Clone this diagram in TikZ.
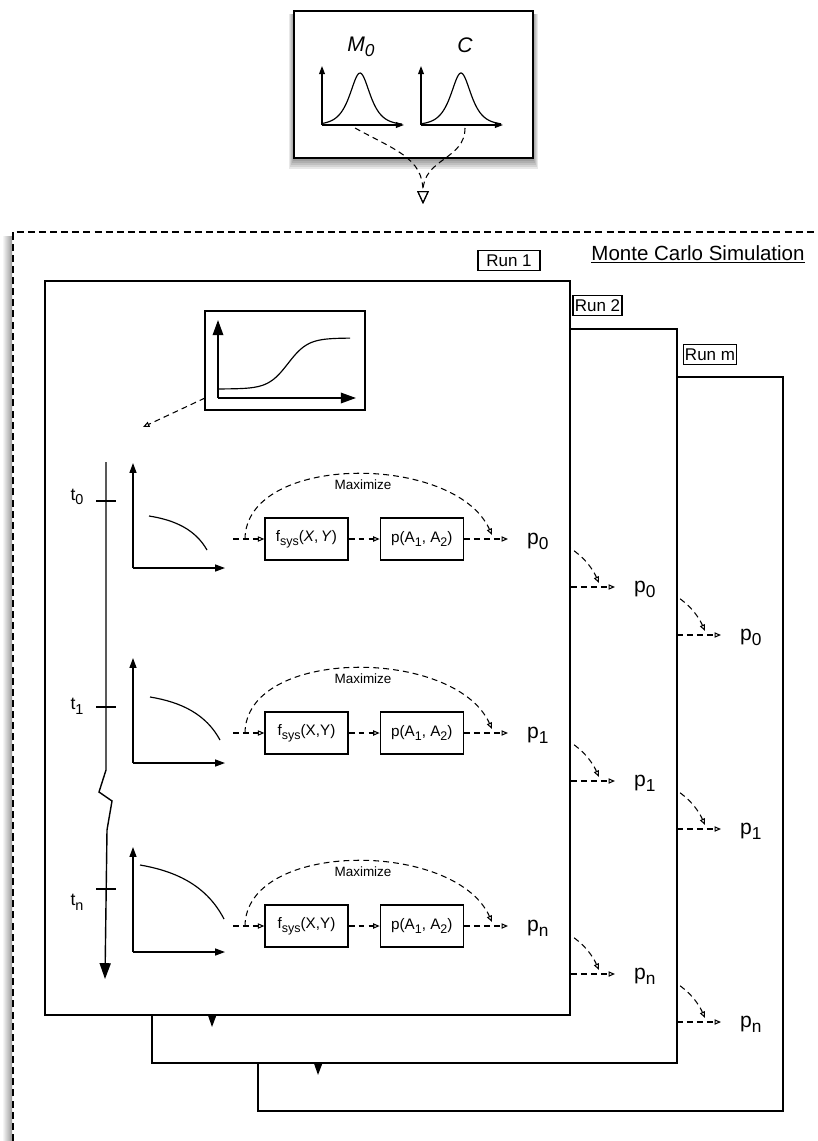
\documentclass[tikz,border=0pt]{standalone}
\usepackage{fontspec}
\usepackage{graphicx}
\setmainfont{Liberation Sans}
\setsansfont{Liberation Sans}
\usetikzlibrary{arrows.meta,positioning}
\newcommand\lsub[1]{\raisebox{-0.5ex}{\scalebox{0.82}{#1}}}
\tikzset{
    priorbox/.style = {rectangle, draw=black, line width=1.2pt, fill=white, minimum width=71.7mm, minimum height=44.1mm},
    insetbox/.style = {rectangle, draw=black, line width=1.2pt, minimum width=48mm, minimum height=29.7mm},
    runpage/.style = {draw=black, line width=1.1pt, fill=white},
    runlabel/.style = {rectangle, draw=black, line width=0.9pt, inner sep=1pt, minimum height=6mm, font=\fontsize{14.5}{15}\selectfont},
    funcbox/.style = {rectangle, draw=black, line width=1.1pt, minimum width=24.9mm, minimum height=12.6mm, inner sep=1pt, font=\fontsize{13}{14}\selectfont},
    distlabel/.style = {font=\fontsize{18}{18}\selectfont},
    mctitle/.style = {font=\fontsize{17.5}{18}\selectfont},
    maxlabel/.style = {font=\fontsize{11.5}{12}\selectfont, inner sep=0pt},
    plabel/.style = {font=\fontsize{18}{18}\selectfont, anchor=base west, inner sep=0pt},
    tlabel/.style = {font=\fontsize{15}{15}\selectfont},
    dasharrow/.style = {dash pattern=on 5pt off 3.5pt, line width=0.9pt, -{Triangle[open, length=5.5pt, width=4.5pt]}},
    distarrow/.style = {dash pattern=on 5pt off 3.5pt, line width=0.9pt, -{Triangle[open, length=11pt, width=10pt]}},
    mcframe/.style = {dash pattern=on 6pt off 3.5pt, line width=1.1pt},
    smallaxis/.style = {line width=1.1pt, -{Triangle[length=7pt, width=5pt]}},
    plotaxis/.style = {line width=1.1pt, -{Triangle[length=8.5pt, width=6pt]}},
    bigaxis/.style = {line width=1.5pt, -{Triangle[length=13pt, width=9pt]}},
    timeaxis/.style = {line width=1.2pt, line join=miter, -{Triangle[length=13.5pt, width=9.5pt]}},
    tick/.style = {line width=1.1pt},
    curve/.style = {line width=1pt}
}
% text only on the front run page, the others are covered
\newcommand\front[1]{\ifnum\pg=1 #1\fi}

\begin{document}
\begin{tikzpicture}[x=0.3mm, y=-0.3mm, node distance=9.3mm]
    \useasboundingbox (0,0) rectangle (817,1141);
    \clip (0,0) rectangle (817,1141);

    % prior distributions
    \foreach \s in {1,...,5}
        \fill [black, opacity=0.09] (294-\s,14) rectangle (533+\s,159+2*\s);
    \node [priorbox] (prior) at (413.5,84.5) {};
    \node [distlabel] (m0) at (361,47) {\textit{M}\lsub{\textit{0}}};
    \node [distlabel] (cc) at (465,45) {\textit{C}};
    \draw [smallaxis] (322,125) -- (322,66);
    \draw [smallaxis] (322,125) -- (404,125);
    \draw [curve] plot[domain=0:80, samples=80] ({322+\x}, {125-52/cosh((\x-38)/9)});
    \draw [smallaxis] (421,125) -- (421,66);
    \draw [smallaxis] (421,125) -- (503,125);
    \draw [curve] plot[domain=0:80, samples=80] ({421+\x}, {125-52/cosh((\x-40)/9)});
    \coordinate (m0out) at (355,128);
    \coordinate (cout) at (465,128);
    \coordinate (sample) at (423,204);
    \draw [distarrow] (m0out) .. controls (395,150) and (423,158) .. (sample);
    \draw [distarrow] (cout) .. controls (465,160) and (423,158) .. (sample);

    % monte carlo frame
    \shade [left color=white, right color=black!40] (2,236) rectangle (12,1141);
    \draw [mcframe] (13,1141) -- (13,232) -- (817,232);
    \node [mctitle] (mctitle) at (698,254) {\underline{Monte Carlo Simulation}};

    \foreach \pg/\dx/\dy in {3/213/96, 2/107/48, 1/0/0}{
    \begin{scope}[shift={(\dx,\dy)}]
        \draw [runpage] (45,281) rectangle (570,1015);

        % sampled path
        \node [insetbox] (inset-\pg) at (285,360.5) {};
        \draw [bigaxis] (218,398) -- (218,320);
        \draw [bigaxis] (218,398) -- (356,398);
        \draw [curve] plot[domain=218:350, samples=60] (\x, {389-51/(1+exp(-(\x-288)/10))});
        \coordinate (insetout-\pg) at (205,398);
        \coordinate (insetin-\pg) at (143,427);
        \draw [dasharrow] (insetout-\pg) -- (insetin-\pg);

        % time axis
        \draw [timeaxis] (106,462) -- (106,770) -- (99,792) -- (112,801) -- (107,830) -- (105,979);

        \foreach \r/\lab/\yc/\yo/\tk/\ly/\sx/\sy/\ex/\ey/\xy in {
            0/0/539/568/501/497/149/516/207/550/{\textit{X},\,\textit{Y}},
            1/1/733/763/707/706/150/697/220/740/{X,Y},
            n/n/926/952/889/902/140/865/224/919/{X,Y}}{
            \draw [tick] (96,\tk) -- (116,\tk);
            \node [tlabel] (t-\pg-\r) at (77,\ly) {\front{t\lsub{\lab}}};
            \draw [plotaxis] (133,\yo) -- (133,\yo-105);
            \draw [plotaxis] (133,\yo) -- (225,\yo);
            \draw [curve] (\sx,\sy) .. controls ({\sx+0.45*(\ex-\sx)},{\sy+0.12*(\ey-\sy)}) and ({\sx+0.8*(\ex-\sx)},{\sy+0.4*(\ey-\sy)}) .. (\ex,\ey);

            \node [funcbox] (fsys-\pg-\r) at (306.5,\yc) {\front{f\lsub{sys}(\xy)}};
            \node [funcbox, right=of fsys-\pg-\r] (prob-\pg-\r) {\front{p(A\lsub{1}, A\lsub{2})}};
            \coordinate (in-\pg-\r) at (233,\yc);
            \coordinate (max-\pg-\r) at (245,\yc);
            \coordinate (maxend-\pg-\r) at (492,\yc-4);
            \coordinate (out-\pg-\r) at (508,\yc);
            \draw [dasharrow] (in-\pg-\r) -- (fsys-\pg-\r);
            \draw [dasharrow] (fsys-\pg-\r) -- (prob-\pg-\r);
            \draw [dasharrow] (prob-\pg-\r) -- (out-\pg-\r);
            \draw [dasharrow] (max-\pg-\r) .. controls (246,\yc-86) and (455,\yc-86) .. (maxend-\pg-\r);
            \node [maxlabel] (maxlabel-\pg-\r) at (363,\yc-54) {\front{Maximize}};
            \node [plabel] (p-\pg-\r) at (527,\yc+5) {p\lsub{\lab}};
        }
    \end{scope}
    }

    \node [runlabel, minimum width=18.6mm] (run1) at (509,260.5) {Run 1};
    \node [runlabel, minimum width=14.7mm] (run2) at (597.5,305.5) {Run 2};
    \node [runlabel, minimum width=13.2mm] (runm) at (710,354.5) {Run m};
\end{tikzpicture}
\end{document}
